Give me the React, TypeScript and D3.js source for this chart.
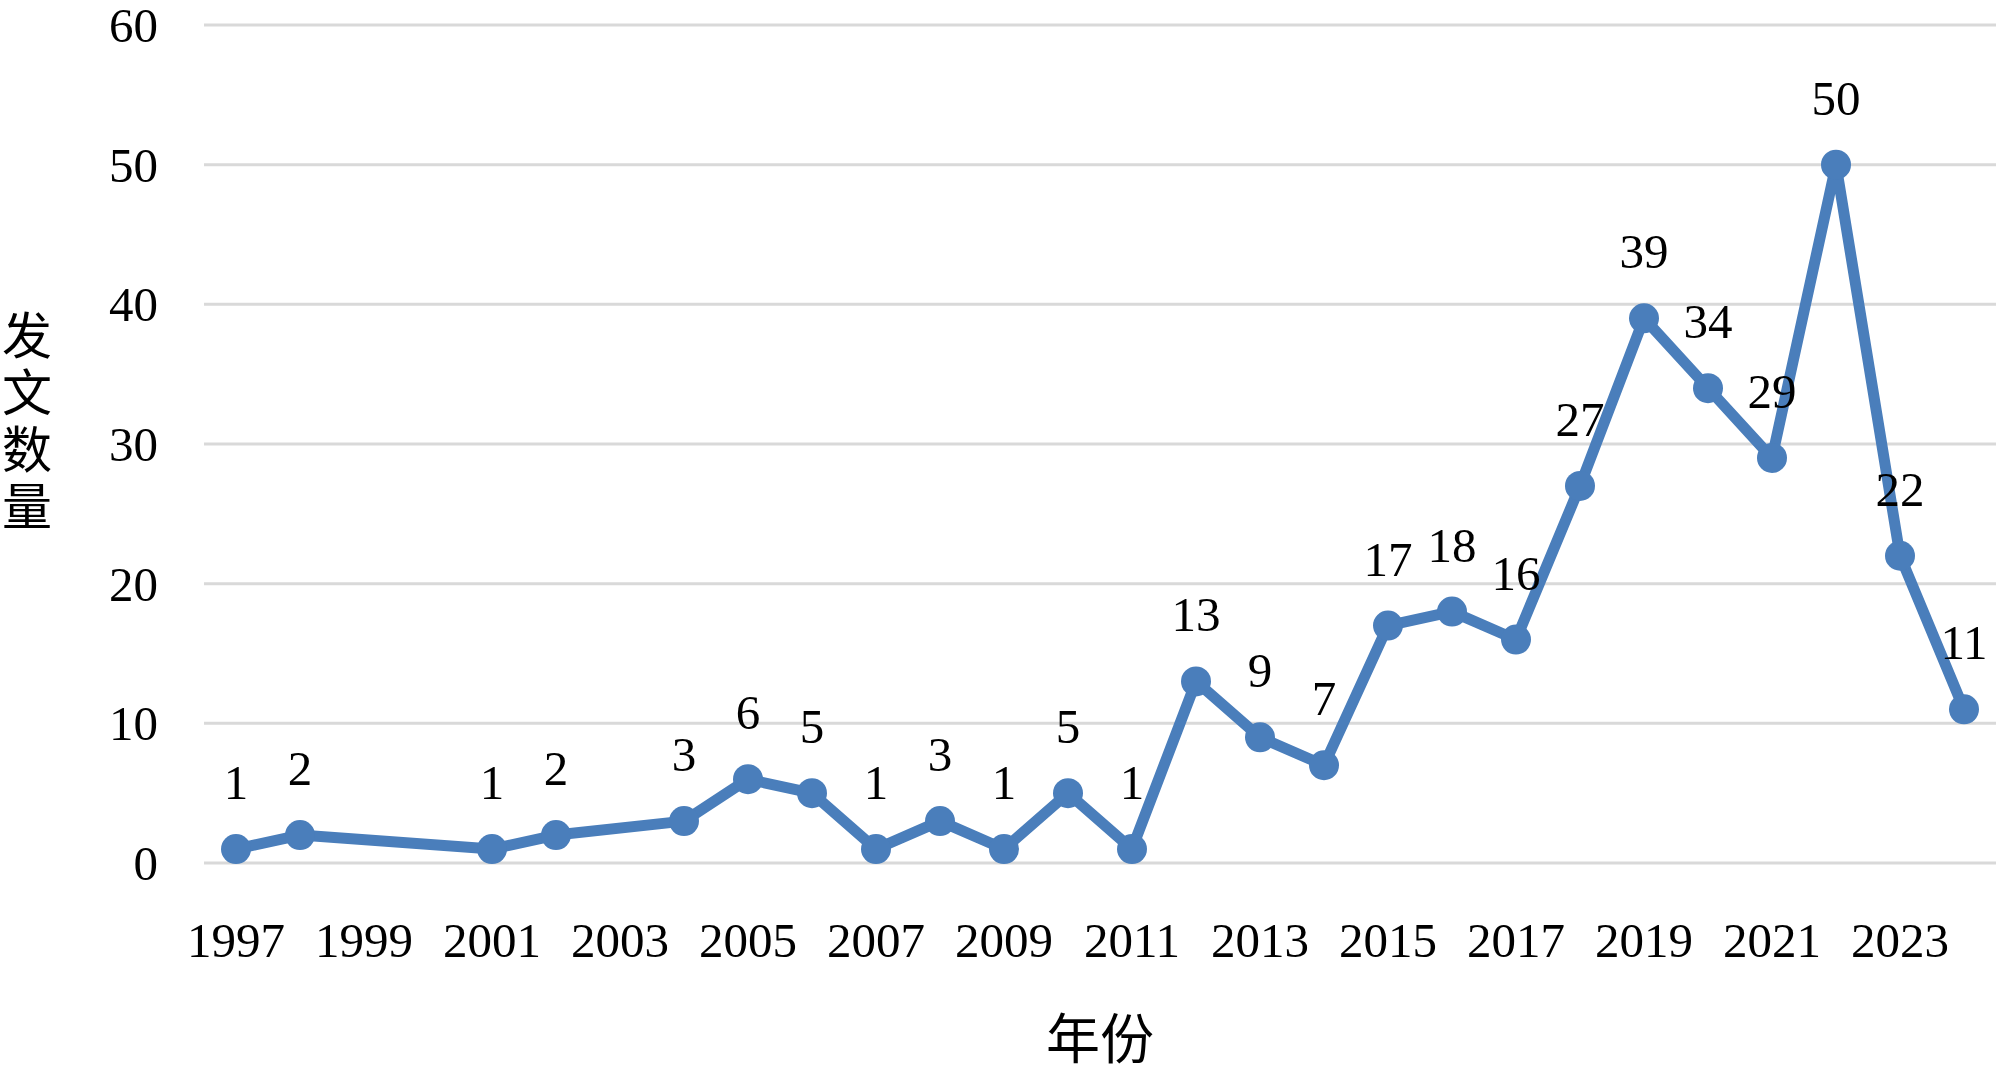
import React from "react";
import * as d3 from "d3";

const years: number[] = [];
for (let y = 1997; y <= 2024; y++) years.push(y);
const dataYears = [1997, 1998, 2001, 2002, 2004, 2005, 2006, 2007, 2008, 2009, 2010, 2011, 2012, 2013, 2014, 2015, 2016, 2017, 2018, 2019, 2020, 2021, 2022, 2023, 2024];
const counts = [1, 2, 1, 2, 3, 6, 5, 1, 3, 1, 5, 1, 13, 9, 7, 17, 18, 16, 27, 39, 34, 29, 50, 22, 11];
const yTicks = [0, 10, 20, 30, 40, 50, 60];
const xTickYears = years.filter((y) => (y - 1997) % 2 === 0);
const yTitle = "发文数量";
const xTitle = "年份";

const W = 2000;
const H = 1074;
const left = 204;
const right = 1996;
const top = 25;
const bottom = 863;

export default function App() {
  const x = d3.scaleBand<number>().domain(years).range([left, right]).paddingInner(0).paddingOuter(0);
  const cx = (yr: number) => (x(yr) as number) + x.bandwidth() / 2;
  const y = d3.scaleLinear().domain([0, 60]).range([bottom, top]);
  const pts = dataYears.map((yr, i) => ({ yr, v: counts[i] }));
  const line = d3.line<{ yr: number; v: number }>().x((d) => cx(d.yr)).y((d) => y(d.v));
  const serif = "'Times New Roman', 'Liberation Serif', serif";
  const cjk = "'Noto Sans CJK SC', sans-serif";
  const blue = "#4a7ebb";
  return (
    <svg width={W} height={H} style={{ position: "absolute", left: 0, top: 0, background: "#fff" }}>
      <rect x={0} y={0} width={W} height={H} fill="#fff" />
      {yTicks.map((t) => (
        <g key={t}>
          <line x1={left} x2={right} y1={y(t)} y2={y(t)} stroke="#d9d9d9" strokeWidth={3} />
          <text x={158} y={y(t)} dy="0.35em" textAnchor="end" fontFamily={serif} fontSize={49} fill="#000">
            {t}
          </text>
        </g>
      ))}
      {xTickYears.map((yr) => (
        <text key={yr} x={cx(yr)} y={957} textAnchor="middle" fontFamily={serif} fontSize={49} fill="#000">
          {yr}
        </text>
      ))}
      <path d={line(pts) as string} fill="none" stroke={blue} strokeWidth={11} strokeLinejoin="round" />
      {pts.map((p) => (
        <circle key={p.yr} cx={cx(p.yr)} cy={y(p.v)} r={15} fill={blue} />
      ))}
      {pts.map((p) => (
        <text key={"l" + p.yr} x={cx(p.yr)} y={y(p.v) - 50} textAnchor="middle" fontFamily={serif} fontSize={49} fill="#000">
          {p.v}
        </text>
      ))}
      <text
        x={27}
        y={310}
        fontFamily={cjk}
        fontSize={50}
        fill="#000"
        style={{ writingMode: "vertical-rl", letterSpacing: "7px" } as any}
      >
        {yTitle}
      </text>
      <text x={1100} y={1040} dy="0.35em" textAnchor="middle" fontFamily={cjk} fontSize={54} fill="#000">
        {xTitle}
      </text>
    </svg>
  );
}
